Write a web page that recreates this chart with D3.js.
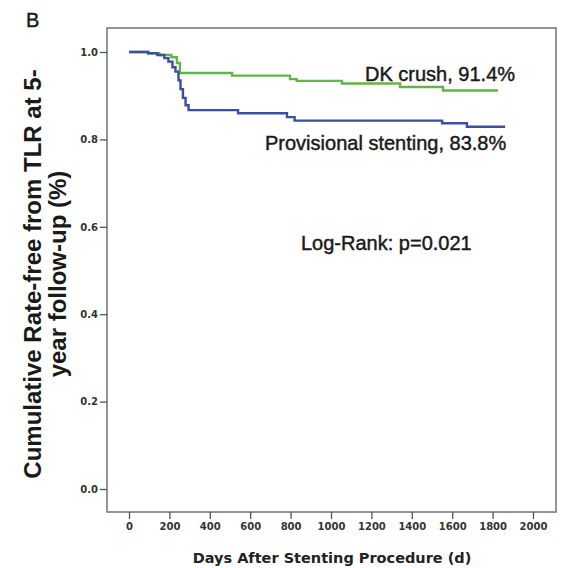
<!DOCTYPE html>
<html>
<head>
<meta charset="utf-8">
<script src="https://cdn.jsdelivr.net/npm/d3@7"></script>
<style>
  html, body { margin: 0; padding: 0; background: #ffffff; }
  svg { display: block; }
</style>
</head>
<body>
<svg id="chart" width="563" height="568"></svg>
<script>
// ---- data ----
const dkTimes = [0, 95, 150, 210, 237, 252, 510, 797, 830, 1054, 1342, 1555, 1827];
const dkSurv  = [1.0, 0.997, 0.993, 0.988, 0.975, 0.952, 0.946, 0.938, 0.934, 0.928, 0.920, 0.912, 0.912];

const psTimes = [0, 95, 140, 175, 195, 215, 230, 245, 255, 267, 280, 295, 540, 782, 820, 1550, 1673, 1862];
const psSurv  = [1.0, 0.997, 0.993, 0.986, 0.978, 0.965, 0.955, 0.935, 0.915, 0.895, 0.878, 0.867, 0.860, 0.851, 0.843, 0.837, 0.829, 0.829];

const xTicks = [0, 200, 400, 600, 800, 1000, 1200, 1400, 1600, 1800, 2000];
const yTicks = [0.0, 0.2, 0.4, 0.6, 0.8, 1.0];

const seriesNames = ["DK crush, 91.4%", "Provisional stenting, 83.8%"];
const seriesColors = ["#62b449", "#3b4f9e"];

// ---- layout ----
const svg = d3.select("#chart");
const frame = { left: 107, right: 556, top: 28, bottom: 512 };
const x = d3.scaleLinear().domain([0, 2000]).range([129, 533]);
const y = d3.scaleLinear().domain([0, 1]).range([489, 52]);

// frame
svg.append("rect")
  .attr("x", frame.left).attr("y", frame.top)
  .attr("width", frame.right - frame.left).attr("height", frame.bottom - frame.top)
  .attr("fill", "none").attr("stroke", "#7a7a7a").attr("stroke-width", 1.6);

// y axis
const yAxis = d3.axisLeft(y).tickValues(yTicks).tickFormat(d3.format(".1f"))
  .tickSize(7).tickPadding(2);
const gy = svg.append("g").attr("transform", `translate(${frame.left},0)`).call(yAxis);
gy.select(".domain").remove();
gy.selectAll(".tick line").attr("stroke", "#555").attr("stroke-width", 1.3);
gy.selectAll(".tick text")
  .attr("font-family", "DejaVu Sans").attr("font-weight", "bold")
  .attr("font-size", 10).attr("fill", "#333");

// x axis
const xAxis = d3.axisBottom(x).tickValues(xTicks).tickFormat(d3.format("d"))
  .tickSize(7).tickPadding(4);
const gx = svg.append("g").attr("transform", `translate(0,${frame.bottom})`).call(xAxis);
gx.select(".domain").remove();
gx.selectAll(".tick line").attr("stroke", "#555").attr("stroke-width", 1.3);
gx.selectAll(".tick text")
  .attr("font-family", "DejaVu Sans").attr("font-weight", "bold")
  .attr("font-size", 10).attr("fill", "#333");

// curves
function stepData(t, s) { return t.map((d, i) => ({ t: d, s: s[i] })); }
const line = d3.line().curve(d3.curveStepAfter).x(d => x(d.t)).y(d => y(d.s));

[[dkTimes, dkSurv], [psTimes, psSurv]].forEach((ser, i) => {
  svg.append("path")
    .datum(stepData(ser[0], ser[1]))
    .attr("d", line)
    .attr("fill", "none")
    .attr("stroke", seriesColors[i])
    .attr("stroke-width", 2.4);
});

// annotations
const txt = (xx, yy, s, size, anchor) => svg.append("text")
  .attr("x", xx).attr("y", yy).text(s)
  .attr("font-family", "Liberation Sans, Arial, sans-serif")
  .attr("font-size", size).attr("fill", "#1a1a1a")
  .attr("stroke", "#1a1a1a").attr("stroke-width", 0.45)
  .attr("text-anchor", anchor || "start");

txt(365, 81, seriesNames[0], 20);
txt(265, 150, seriesNames[1], 20);
txt(301, 250, "Log-Rank: p=0.021", 20);
txt(26, 27, "B", 20);

// x title
svg.append("text")
  .attr("x", 332).attr("y", 563)
  .attr("text-anchor", "middle")
  .attr("font-family", "DejaVu Sans").attr("font-weight", "bold")
  .attr("font-size", 14.5).attr("fill", "#222")
  .text("Days After Stenting Procedure (d)");

// y title (two lines)
const yt = svg.append("text")
  .attr("transform", "translate(41,274) rotate(-90)")
  .attr("text-anchor", "middle")
  .attr("font-family", "Liberation Sans, Arial, sans-serif")
  .attr("font-weight", "bold").attr("font-size", 24).attr("fill", "#1a1a1a");
yt.append("tspan").attr("x", 0).attr("y", 0).text("Cumulative Rate-free from TLR at 5-");
yt.append("tspan").attr("x", 0).attr("y", 25).text("year follow-up (%)");
</script>
</body>
</html>
